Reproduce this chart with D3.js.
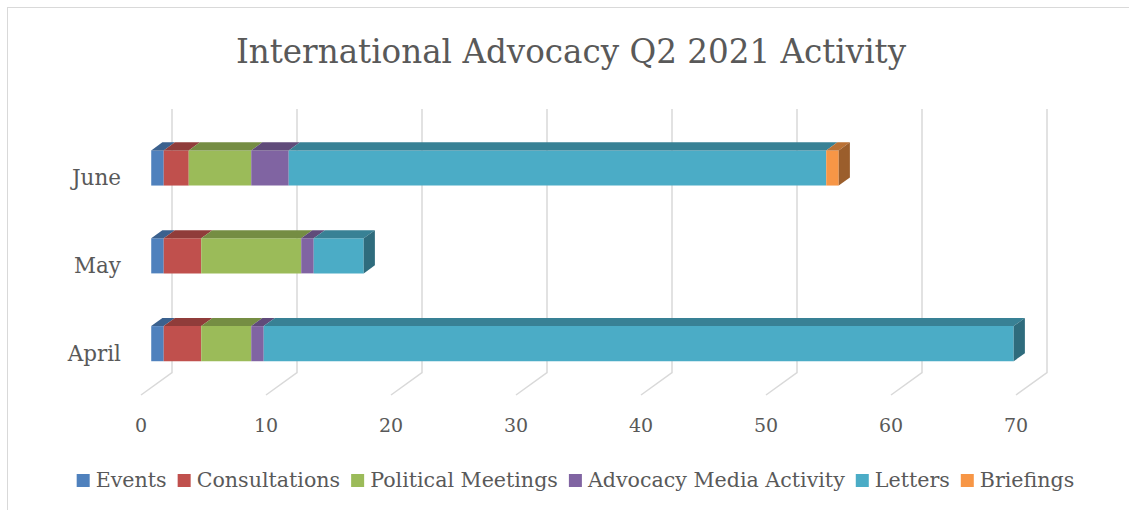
<!DOCTYPE html>
<html>
<head>
<meta charset="utf-8">
<script src="https://cdn.jsdelivr.net/npm/d3@7"></script>
<style>
  html, body { margin: 0; padding: 0; background: #fff; }
  svg { display: block; }
  text { font-family: "DejaVu Serif", "Liberation Serif", serif; fill: #595959; }
</style>
</head>
<body>
<div id="chart"></div>
<script>
// --- données ---
const months = ["June", "May", "April"];   // de haut en bas
const seriesNames = ["Events", "Consultations", "Political Meetings", "Advocacy Media Activity", "Letters", "Briefings"];
const seriesColors = ["#4F81BD", "#C0504D", "#9BBB59", "#8064A2", "#4BACC6", "#F79646"];
// valeurs par mois, dans l'ordre de seriesNames
const juneValues  = [1, 2, 5, 3, 43, 1];
const mayValues   = [1, 3, 8, 1, 4, 0];
const aprilValues = [1, 3, 4, 1, 60, 0];
const xTicks = [0, 10, 20, 30, 40, 50, 60, 70];
const title = "International Advocacy Q2 2021 Activity";

const valuesByMonth = { June: juneValues, May: mayValues, April: aprilValues };

// --- mise en page ---
const W = 1129, H = 510;
const frontLeft = 141;          // x du 0 sur le bord avant du sol
const depthX = 31, depthY = -22.5; // décalage 3D jusqu'au mur du fond
const barFrom = 0.33, barTo = 0.69; // profondeur occupée par les barres

const svg = d3.select("#chart").append("svg")
  .attr("width", W).attr("height", H);

// cadre du graphique (bord gauche et haut seulement visibles)
svg.append("rect")
  .attr("x", 7.5).attr("y", 7.5)
  .attr("width", W + 20).attr("height", H + 20)
  .attr("fill", "none").attr("stroke", "#d9d9d9").attr("stroke-width", 1);

const x = d3.scaleLinear().domain([0, 70]).range([0, 875]);
const y = d3.scaleBand().domain(months).range([131.5, 395]).paddingInner(0.6).paddingOuter(0.3);

// projection : valeur + profondeur (0 = avant, 1 = fond)
const px = (v, f) => frontLeft + x(v) + depthX * f;
const py = (yy, f) => yy + depthY * f;

// titre
svg.append("text")
  .attr("x", 571).attr("y", 63)
  .attr("text-anchor", "middle")
  .style("font-size", "32.6px")
  .text(title);

// grille : verticale sur le mur, diagonale sur le sol
const floorY = y.range()[1];
const grid = svg.append("g");
xTicks.forEach(t => {
  grid.append("path")
    .attr("d", d3.line()([
      [px(t, 1), py(y.range()[0], 1)],
      [px(t, 1), py(floorY, 1)],
      [px(t, 0), floorY]
    ]))
    .attr("fill", "none")
    .attr("stroke", "#d9d9d9")
    .attr("stroke-width", 1.5);
});

// étiquettes de l'axe des valeurs
svg.append("g").selectAll("text")
  .data(xTicks).enter().append("text")
  .attr("x", d => px(d, 0))
  .attr("y", 427)
  .attr("text-anchor", "middle")
  .attr("dominant-baseline", "middle")
  .style("font-size", "19px")
  .text(d => d);

// étiquettes des mois
svg.append("g").selectAll("text")
  .data(months).enter().append("text")
  .attr("x", 121)
  .attr("y", d => y(d) + y.bandwidth() / 2 + 4)
  .attr("text-anchor", "end")
  .attr("dominant-baseline", "middle")
  .style("font-size", "21.5px")
  .text(d => d);

// barres 3D empilées
const bars = svg.append("g");
months.forEach(m => {
  const vals = valuesByMonth[m];
  const top = y(m), bottom = y(m) + y.bandwidth();
  let lastIdx = -1;
  vals.forEach((v, i) => { if (v > 0) lastIdx = i; });
  let start = 0;
  vals.forEach((v, i) => {
    if (v <= 0) return;
    const end = start + v;
    const c = seriesColors[i];
    // face avant
    bars.append("path")
      .attr("d", d3.line()([
        [px(start, barFrom), py(top, barFrom)],
        [px(end, barFrom), py(top, barFrom)],
        [px(end, barFrom), py(bottom, barFrom)],
        [px(start, barFrom), py(bottom, barFrom)]
      ]) + "Z")
      .attr("fill", c);
    // dessus
    bars.append("path")
      .attr("d", d3.line()([
        [px(start, barFrom), py(top, barFrom)],
        [px(start, barTo), py(top, barTo)],
        [px(end, barTo), py(top, barTo)],
        [px(end, barFrom), py(top, barFrom)]
      ]) + "Z")
      .attr("fill", d3.color(c).darker(0.8));
    // côté droit (dernier segment seulement)
    if (i === lastIdx) {
      bars.append("path")
        .attr("d", d3.line()([
          [px(end, barFrom), py(top, barFrom)],
          [px(end, barTo), py(top, barTo)],
          [px(end, barTo), py(bottom, barTo)],
          [px(end, barFrom), py(bottom, barFrom)]
        ]) + "Z")
        .attr("fill", d3.color(c).darker(1.3));
    }
    start = end;
  });
});

// légende centrée
const legend = svg.append("g");
let lx = 0;
seriesNames.forEach((name, i) => {
  const item = legend.append("g").attr("transform", `translate(${lx},0)`);
  item.append("rect")
    .attr("x", 0).attr("y", -13)
    .attr("width", 13).attr("height", 13)
    .attr("fill", seriesColors[i]);
  const t = item.append("text")
    .attr("x", 19).attr("y", 0)
    .style("font-size", "20.6px")
    .text(name);
  lx += 19 + t.node().getComputedTextLength() + 11;
});
lx -= 11;
legend.attr("transform", `translate(${575.5 - lx / 2},487)`);
</script>
</body>
</html>
